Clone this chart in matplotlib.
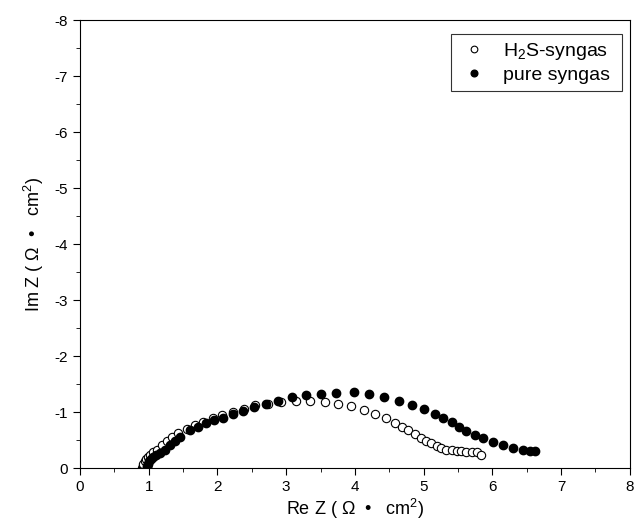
import matplotlib
matplotlib.use("Agg")
import matplotlib.pyplot as plt
from matplotlib.ticker import MultipleLocator

plt.rcParams['font.family'] = ['Liberation Sans', 'DejaVu Sans']
plt.rcParams['mathtext.fontset'] = 'custom'
plt.rcParams['mathtext.rm'] = 'Liberation Sans'
plt.rcParams['mathtext.it'] = 'Liberation Sans:italic'
plt.rcParams['axes.unicode_minus'] = False

# H2S-syngas (open circles)
h2s_re = [0.90, 0.91, 0.92, 0.94, 0.96, 0.99, 1.02, 1.06, 1.12, 1.19, 1.26, 1.34, 1.43, 1.55, 1.67,
          1.79, 1.93, 2.07, 2.22, 2.38, 2.55, 2.74, 2.93, 3.15, 3.35, 3.56, 3.76, 3.95,
          4.13, 4.29, 4.45, 4.58, 4.69, 4.78, 4.87, 4.96, 5.04, 5.11, 5.19, 5.26, 5.33,
          5.41, 5.48, 5.55, 5.62, 5.70, 5.77, 5.84]
h2s_im = [0.00, -0.04, -0.08, -0.12, -0.16, -0.20, -0.24, -0.28, -0.33, -0.41, -0.48, -0.55, -0.62, -0.69, -0.77,
          -0.83, -0.89, -0.95, -1.00, -1.06, -1.12, -1.15, -1.18, -1.19, -1.19, -1.17, -1.14, -1.10,
          -1.04, -0.97, -0.89, -0.81, -0.73, -0.68, -0.61, -0.53, -0.48, -0.44, -0.39, -0.36, -0.33,
          -0.32, -0.31, -0.30, -0.29, -0.29, -0.28, -0.24]

# pure syngas (filled circles)
pure_re = [0.97, 0.98, 0.99, 1.01, 1.03, 1.06, 1.10, 1.16, 1.23, 1.31, 1.38, 1.45, 1.60, 1.72, 1.83,
           1.95, 2.08, 2.22, 2.37, 2.53, 2.71, 2.88, 3.08, 3.29, 3.51, 3.73, 3.98,
           4.21, 4.43, 4.64, 4.83, 5.01, 5.16, 5.28, 5.41, 5.52, 5.62, 5.75, 5.87, 6.01,
           6.16, 6.30, 6.45, 6.55, 6.62]
pure_im = [0.00, -0.04, -0.08, -0.12, -0.16, -0.20, -0.23, -0.27, -0.33, -0.41, -0.48, -0.56, -0.68, -0.74, -0.80,
           -0.85, -0.90, -0.96, -1.02, -1.09, -1.15, -1.20, -1.26, -1.30, -1.33, -1.34, -1.35,
           -1.32, -1.26, -1.20, -1.13, -1.05, -0.96, -0.89, -0.82, -0.74, -0.66, -0.59, -0.53, -0.47,
           -0.41, -0.36, -0.33, -0.31, -0.30]

fig = plt.figure(figsize=(6.4, 5.28), dpi=100)
ax = fig.add_axes([0.125, 0.1136, 0.859, 0.8485])

ax.plot(h2s_re, h2s_im, 'o', mfc='white', mec='black', mew=0.8, ms=6,
        linestyle='none', label='H$_2$S-syngas')
ax.plot(pure_re, pure_im, 'o', mfc='black', mec='black', ms=6,
        linestyle='none', label='pure syngas')

ax.set_xlim(0, 8)
ax.set_ylim(0, -8)
ax.xaxis.set_major_locator(MultipleLocator(1))
ax.xaxis.set_minor_locator(MultipleLocator(0.5))
ax.yaxis.set_major_locator(MultipleLocator(1))
ax.yaxis.set_minor_locator(MultipleLocator(0.5))
ax.tick_params(which='both', direction='out', top=False, right=False, labelsize=11)
ax.tick_params(which='major', length=5)
ax.tick_params(which='minor', length=3)

ax.set_xlabel('Re Z ( \u03a9  \u2022   cm$^2$)', fontsize=13, labelpad=2)
ax.set_ylabel('Im Z ( \u03a9  \u2022   cm$^2$)', fontsize=13, labelpad=6)

leg = ax.legend(loc='upper right', fontsize=14, frameon=True, fancybox=False,
                edgecolor='black', borderpad=0.35, handletextpad=0.7, markerscale=0.8,
                handlelength=1.6, labelspacing=0.25, borderaxespad=0,
                bbox_to_anchor=(0.986, 0.969))
leg.get_frame().set_linewidth(0.8)
# extra right padding as in the reference
for t in leg.get_texts():
    t.set_text(t.get_text() + ' ')

fig.savefig('out.png', dpi=100)
